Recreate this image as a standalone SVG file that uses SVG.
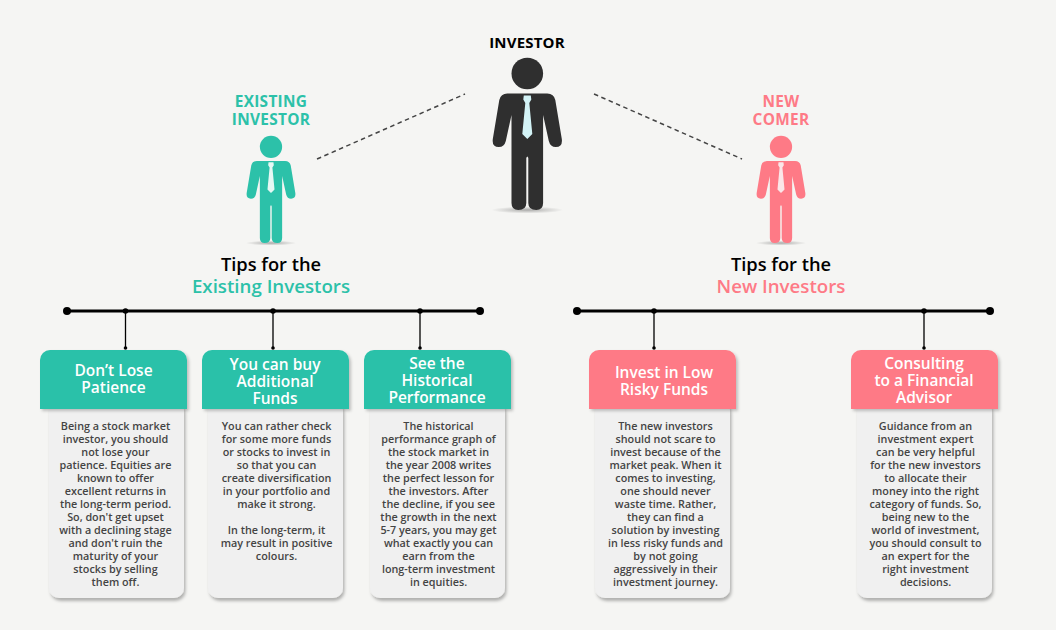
<svg xmlns="http://www.w3.org/2000/svg" width="1056" height="630" viewBox="0 0 1056 630">
<style>
text{font-family:"Open Sans","Noto Sans","Liberation Sans",sans-serif;text-anchor:middle}
.title{font-size:15.400px;font-weight:700;letter-spacing:.3px}
.main{font-size:15px;letter-spacing:.2px}
.tips{font-size:18.300px;font-weight:600}
.tipc{font-size:18.700px;font-weight:600}
.head{font-size:15.500px;font-weight:600;fill:#fff}
.body{font-size:10.800px;font-weight:600;fill:#444}
.teal{fill:#2cc1a9}.pink{fill:#fe7a86}.blk{fill:#000}
.card{fill:#f0f0f0;stroke:none;filter:url(#cs)}
.hdr{filter:url(#hs)}
.bar{stroke:#000;stroke-width:3;fill:none}
.stem{stroke:#000;stroke-width:1.300;fill:none}
.dash{stroke:#444;stroke-width:1.500;stroke-dasharray:4.500 3.500;fill:none}
</style>
<defs>
<filter id="cs" x="-10%" y="-10%" width="125%" height="125%"><feDropShadow dx="1.500" dy="3" stdDeviation="1.500" flood-color="#000" flood-opacity=".28"/></filter>
<filter id="hs" x="-10%" y="-10%" width="125%" height="125%"><feDropShadow dx="2" dy="2" stdDeviation="1.500" flood-color="#000" flood-opacity=".22"/></filter>
<radialGradient id="sh"><stop offset="0" stop-color="#000" stop-opacity=".3"/><stop offset="1" stop-color="#000" stop-opacity="0"/></radialGradient>
<g id="person">
<ellipse cx="0" cy="210" rx="36" ry="3.500" fill="url(#sh)"/>
<circle cx="0" cy="73.500" r="15.800"/>
<path d="M-20,93.500H20Q26.500,93.500 28,100L34.500,139Q35.500,147 28.500,147Q23,147 21.500,141L15.800,115V203Q15.800,210 9,210Q1,210 1,203V158Q0,155 -1,158V203Q-1,210 -9,210Q-15.800,210 -15.800,203V115L-21.500,141Q-23,147 -28.500,147Q-35.500,147 -34.500,139L-28,100Q-26.500,93.500 -20,93.500Z"/>
</g>
<path id="tie" d="M-3.500,95.500H3.500L4,99.500L2,103L5,134L0,139L-5,134L-2,103L-4,99.500Z"/>
</defs>
<rect width="1056" height="630" fill="#f5f5f3"/>

<g id="connectors">
<path class="dash" d="M317,159L465,94M594,94L742,159"/>
<path class="bar" d="M67,311H480M577,311H990"/>
<path class="stem" d="M125.500,311V348M273,311V348M420,311V348M654,311V348M924,311V348"/>
<g>
<circle cx="67" cy="311" r="4"/><circle cx="480" cy="311" r="4"/><circle cx="577" cy="311" r="4"/><circle cx="990" cy="311" r="4"/>
<circle cx="125.500" cy="311" r="2.800"/><circle cx="273" cy="311" r="2.800"/><circle cx="420" cy="311" r="2.800"/><circle cx="654" cy="311" r="2.800"/><circle cx="924" cy="311" r="2.800"/>
<circle cx="125.500" cy="348" r="1.800"/><circle cx="273" cy="348" r="1.800"/><circle cx="420" cy="348" r="1.800"/><circle cx="654" cy="348" r="1.800"/><circle cx="924" cy="348" r="1.800"/>
</g>
</g>

<g id="investor">
<text class="title main blk" x="527" y="48">INVESTOR</text>
<use href="#person" transform="translate(527.300,0)" fill="#2f2f2f"/>
<use href="#tie" transform="translate(527.300,0)" fill="#d3f3f6"/>
</g>
<g id="existing-investor">
<text class="title teal" x="271" y="107">EXISTING</text>
<text class="title teal" x="271" y="125">INVESTOR</text>
<use href="#person" transform="translate(271,95) scale(.705)" fill="#2cc1a9"/>
<use href="#tie" transform="translate(271,95) scale(.705)" fill="#e6f8f4"/>
</g>
<g id="new-comer">
<text class="title pink" x="781" y="107">NEW</text>
<text class="title pink" x="781" y="125">COMER</text>
<use href="#person" transform="translate(781,95) scale(.705)" fill="#fe7a86"/>
<use href="#tie" transform="translate(781,95) scale(.705)" fill="#fbe6e8"/>
</g>
<g id="tips-existing">
<text class="tips blk" x="271" y="271">Tips for the</text>
<text class="tipc teal" x="271" y="293">Existing Investors</text>
</g>
<g id="tips-new">
<text class="tips blk" x="781" y="271">Tips for the</text>
<text class="tipc pink" x="781" y="293">New Investors</text>
</g>

<g id="card-patience">
<rect class="card" x="49" y="400" width="135" height="198" rx="10"/>
<path class="teal hdr" d="M40,409V360a10,10 0 0 1 10,-10H177a10,10 0 0 1 10,10V409Z"/>
<text class="head"><tspan x="113.500" y="376">Don’t Lose</tspan><tspan x="113.500" y="393">Patience</tspan></text>
<text class="body"><tspan x="115.500" y="430">Being a stock market</tspan><tspan x="115.500" y="443">investor, you should</tspan><tspan x="115.500" y="456">not lose your</tspan><tspan x="115.500" y="469">patience. Equities are</tspan><tspan x="115.500" y="482">known to offer</tspan><tspan x="115.500" y="495">excellent returns in</tspan><tspan x="115.500" y="508">the long-term period.</tspan><tspan x="115.500" y="521">So, don't get upset</tspan><tspan x="115.500" y="534">with a declining stage</tspan><tspan x="115.500" y="547">and don't ruin the</tspan><tspan x="115.500" y="560">maturity of your</tspan><tspan x="115.500" y="573">stocks by selling</tspan><tspan x="115.500" y="586">them off.</tspan></text>
</g>
<g id="card-funds">
<rect class="card" x="208" y="400" width="135" height="198" rx="10"/>
<path class="teal hdr" d="M202,409V360a10,10 0 0 1 10,-10H339a10,10 0 0 1 10,10V409Z"/>
<text class="head"><tspan x="275" y="370">You can buy</tspan><tspan x="275" y="387">Additional</tspan><tspan x="275" y="404">Funds</tspan></text>
<text class="body"><tspan x="276.500" y="430">You can rather check</tspan><tspan x="276.500" y="443">for some more funds</tspan><tspan x="276.500" y="456">or stocks to invest in</tspan><tspan x="276.500" y="469">so that you can</tspan><tspan x="276.500" y="482">create diversification</tspan><tspan x="276.500" y="495">in your portfolio and</tspan><tspan x="276.500" y="508">make it strong.</tspan><tspan x="276.500" y="534">In the long-term, it</tspan><tspan x="276.500" y="547">may result in positive</tspan><tspan x="276.500" y="560">colours.</tspan></text>
</g>
<g id="card-historical">
<rect class="card" x="370" y="400" width="135" height="198" rx="10"/>
<path class="teal hdr" d="M364,409V360a10,10 0 0 1 10,-10H501a10,10 0 0 1 10,10V409Z"/>
<text class="head"><tspan x="437" y="369">See the</tspan><tspan x="437" y="386">Historical</tspan><tspan x="437" y="403">Performance</tspan></text>
<text class="body"><tspan x="438.500" y="430">The historical</tspan><tspan x="438.500" y="443">performance graph of</tspan><tspan x="438.500" y="456">the stock market in</tspan><tspan x="438.500" y="469">the year 2008 writes</tspan><tspan x="438.500" y="482">the perfect lesson for</tspan><tspan x="438.500" y="495">the investors. After</tspan><tspan x="438.500" y="508">the decline, if you see</tspan><tspan x="438.500" y="521">the growth in the next</tspan><tspan x="438.500" y="534">5-7 years, you may get</tspan><tspan x="438.500" y="547">what exactly you can</tspan><tspan x="438.500" y="560">earn from the</tspan><tspan x="438.500" y="573">long-term investment</tspan><tspan x="438.500" y="586">in equities.</tspan></text>
</g>
<g id="card-low-risk">
<rect class="card" x="595" y="400" width="135" height="198" rx="10"/>
<path class="pink hdr" d="M589,409V360a10,10 0 0 1 10,-10H726a10,10 0 0 1 10,10V409Z"/>
<text class="head"><tspan x="664" y="378">Invest in Low</tspan><tspan x="664" y="395">Risky Funds</tspan></text>
<text class="body"><tspan x="665.500" y="430">The new investors</tspan><tspan x="665.500" y="443">should not scare to</tspan><tspan x="665.500" y="456">invest because of the</tspan><tspan x="665.500" y="469">market peak. When it</tspan><tspan x="665.500" y="482">comes to investing,</tspan><tspan x="665.500" y="495">one should never</tspan><tspan x="665.500" y="508">waste time. Rather,</tspan><tspan x="665.500" y="521">they can find a</tspan><tspan x="665.500" y="534">solution by investing</tspan><tspan x="665.500" y="547">in less risky funds and</tspan><tspan x="665.500" y="560">by not going</tspan><tspan x="665.500" y="573">aggressively in their</tspan><tspan x="665.500" y="586">investment journey.</tspan></text>
</g>
<g id="card-advisor">
<rect class="card" x="857" y="400" width="135" height="198" rx="10"/>
<path class="pink hdr" d="M851,409V360a10,10 0 0 1 10,-10H988a10,10 0 0 1 10,10V409Z"/>
<text class="head"><tspan x="924" y="369">Consulting</tspan><tspan x="924" y="386">to a Financial</tspan><tspan x="924" y="403">Advisor</tspan></text>
<text class="body"><tspan x="925.500" y="430">Guidance from an</tspan><tspan x="925.500" y="443">investment expert</tspan><tspan x="925.500" y="456">can be very helpful</tspan><tspan x="925.500" y="469">for the new investors</tspan><tspan x="925.500" y="482">to allocate their</tspan><tspan x="925.500" y="495">money into the right</tspan><tspan x="925.500" y="508">category of funds. So,</tspan><tspan x="925.500" y="521">being new to the</tspan><tspan x="925.500" y="534">world of investment,</tspan><tspan x="925.500" y="547">you should consult to</tspan><tspan x="925.500" y="560">an expert for the</tspan><tspan x="925.500" y="573">right investment</tspan><tspan x="925.500" y="586">decisions.</tspan></text>
</g>
</svg>
